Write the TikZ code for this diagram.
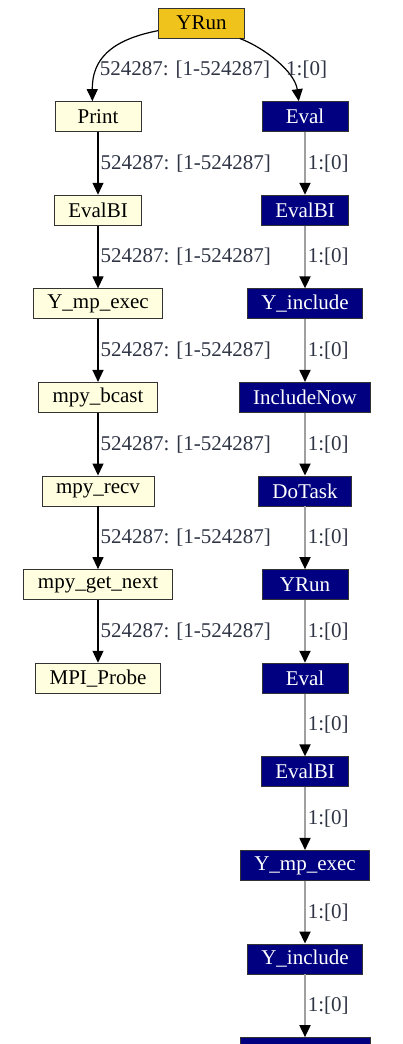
\documentclass[tikz,border=0pt]{standalone}
\usepackage{fontspec}
\setmainfont{Liberation Serif}
\usetikzlibrary{arrows.meta, positioning}
\definecolor{CallGold}{HTML}{F0C21C}
\definecolor{CallLight}{HTML}{FFFFE0}
\definecolor{CallNavy}{HTML}{000080}
\definecolor{CallEdge}{HTML}{A0A0A0}
\definecolor{CallLabel}{HTML}{2E3444}

\begin{document}
\begin{tikzpicture}[x=1pt, y=-1pt,
    fn/.style={
      rectangle, draw=black!80, line width=0.9pt, minimum width=86pt,
      minimum height=30pt, inner xsep=14pt, inner ysep=0pt,
      font=\fontsize{21}{24}\selectfont
    },
    mpi/.style={fn, fill=CallLight},
    task/.style={fn, fill=CallNavy, text=white},
    root/.style={fn, fill=CallGold},
    call/.style={draw=black, line width=1.2pt, -{Triangle[length=12pt, width=11pt]}},
    self/.style={draw=CallEdge, line width=1.8pt, -{Triangle[length=12pt, width=11pt, color=black]}},
    cnt/.style={anchor=west, inner xsep=2pt, text=CallLabel, font=\fontsize{21}{24}\selectfont}
  ]
    \useasboundingbox (0,0) rectangle (402,1044);
    \clip (0,0) rectangle (402,1044);

    \node[root] (yrun) at (201.5,23) {YRun};

    % left branch
    \node[mpi] (lprint) at (98,116.6) {Print};
    \node[mpi] (levalbi) at (98,210.2) {EvalBI};
    \node[mpi] (lmpexec) at (98,303.8) {Y\_mp\_exec};
    \node[mpi] (lbcast) at (98,397.4) {mpy\_bcast};
    \node[mpi] (lrecv) at (98,491) {mpy\_recv};
    \node[mpi] (lgetnext) at (98,584.6) {mpy\_get\_next};
    \node[mpi] (lprobe) at (98,678.2) {MPI\_Probe};

    % right branch
    \node[task] (reval) at (305,116.6) {Eval};
    \node[task] (revalbi) at (305,210.2) {EvalBI};
    \node[task] (rinclude) at (305,303.8) {Y\_include};
    \node[task] (rincnow) at (305,397.4) {IncludeNow};
    \node[task] (rdotask) at (305,491) {DoTask};
    \node[task] (ryrun) at (305,584.6) {YRun};
    \node[task] (reval2) at (305,678.2) {Eval};
    \node[task] (revalbi2) at (305,771.8) {EvalBI};
    \node[task] (rmpexec) at (305,865.4) {Y\_mp\_exec};
    \node[task] (rinclude2) at (305,959) {Y\_include};
    \node[task, minimum width=130pt] (rnext) at (305,1052.6) {};

    \draw[call] (yrun.190) .. controls (110,40) and (92,60) ..
      node[cnt, pos=0.7] {524287: [1-524287]} (lprint.110);
    \draw[call] (yrun.338) .. controls (265,48) and (295,72) ..
      node[cnt, pos=0.6] {1:[0]} (reval.112);

    \draw[call] (lprint) -- node[cnt] {524287: [1-524287]} (levalbi);
    \draw[call] (levalbi) -- node[cnt] {524287: [1-524287]} (lmpexec);
    \draw[call] (lmpexec) -- node[cnt] {524287: [1-524287]} (lbcast);
    \draw[call] (lbcast) -- node[cnt] {524287: [1-524287]} (lrecv);
    \draw[call] (lrecv) -- node[cnt] {524287: [1-524287]} (lgetnext);
    \draw[call] (lgetnext) -- node[cnt] {524287: [1-524287]} (lprobe);

    \draw[self] (reval) -- node[cnt] {1:[0]} (revalbi);
    \draw[self] (revalbi) -- node[cnt] {1:[0]} (rinclude);
    \draw[self] (rinclude) -- node[cnt] {1:[0]} (rincnow);
    \draw[self] (rincnow) -- node[cnt] {1:[0]} (rdotask);
    \draw[self] (rdotask) -- node[cnt] {1:[0]} (ryrun);
    \draw[self] (ryrun) -- node[cnt] {1:[0]} (reval2);
    \draw[self] (reval2) -- node[cnt] {1:[0]} (revalbi2);
    \draw[self] (revalbi2) -- node[cnt] {1:[0]} (rmpexec);
    \draw[self] (rmpexec) -- node[cnt] {1:[0]} (rinclude2);
    \draw[self] (rinclude2) -- node[cnt] {1:[0]} (rnext);
  \end{tikzpicture}
\end{document}
